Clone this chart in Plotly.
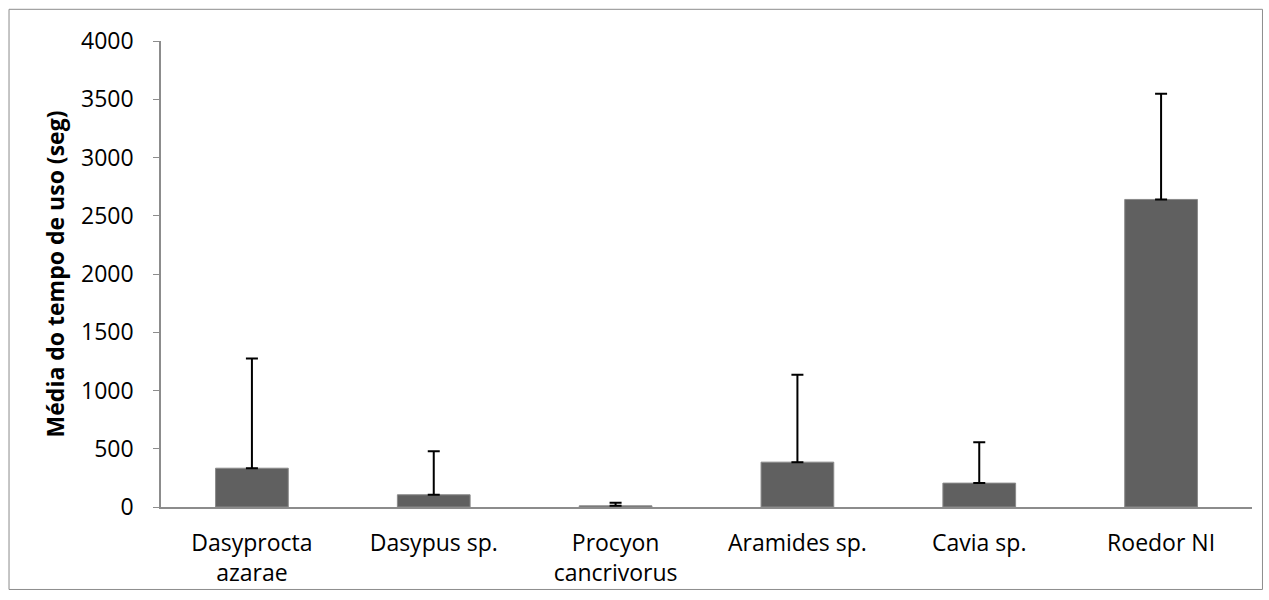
import plotly.graph_objects as go

categories = ["Dasyprocta<br>azarae", "Dasypus sp.", "Procyon<br>cancrivorus",
              "Aramides sp.", "Cavia sp.", "Roedor NI"]
means = [333, 105, 10, 385, 205, 2640]
sd = [942, 374, 27, 750, 351, 908]
y_ticks = [0, 500, 1000, 1500, 2000, 2500, 3000, 3500, 4000]

FONT = "'Open Sans', Arial, sans-serif"

fig = go.Figure()
fig.add_trace(go.Bar(
    x=categories, y=means,
    marker=dict(color="#606060", line=dict(color="#8a8a8a", width=1)),
    width=0.4,
    error_y=dict(type="data", symmetric=False, array=sd, arrayminus=[0]*len(sd),
                 color="black", thickness=2, width=6),
))

fig.update_layout(
    width=1269, height=600,
    margin=dict(l=161, r=17, t=41, b=91),
    plot_bgcolor="white", paper_bgcolor="white",
    showlegend=False,
    font=dict(family=FONT, size=23, color="black"),
    xaxis=dict(showline=True, linecolor="#8c8c8c", linewidth=2, ticks="",
               tickfont=dict(size=23), showgrid=False, ticklabelstandoff=14),
    yaxis=dict(range=[0, 4000], tickvals=y_ticks, showline=True, linecolor="#8c8c8c",
               linewidth=1.5, ticks="outside", ticklen=6, tickcolor="#8c8c8c",
               showgrid=False, zeroline=False, tickfont=dict(size=23),
               ticklabelstandoff=15,
               title=dict(text="<b>Média do tempo de uso (seg)</b>", font=dict(size=23), standoff=10)),
    shapes=[dict(type="rect", xref="paper", yref="paper",
                 x0=-0.1393, x1=1.0096, y0=-0.177, y1=1.068,
                 line=dict(color="#8c8c8c", width=1), fillcolor="rgba(0,0,0,0)")],
)

fig.write_html("out.html", config={"displayModeBar": False},
               post_script="document.body.style.margin='0px';document.body.style.overflow='hidden';")
